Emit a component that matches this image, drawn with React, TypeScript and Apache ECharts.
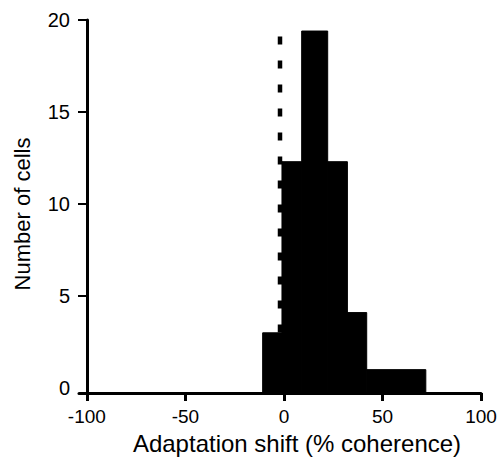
import React, { useEffect, useRef } from "react";
import * as echarts from "echarts";

// Histogram bin edges (% coherence) and counts (number of cells)
const binEdges = [-10.8, -1, 9, 22.2, 32.2, 42, 72];
const binCounts = [3, 12.3, 19.4, 12.3, 4.1, 1];
const xTicks = [-100, -50, 0, 50, 100];
const yTicks = [0, 5, 10, 15, 20];
const yTickMarks = [5, 10, 15, 20];
const dashedX = -2;
const dashedTop = 19.1;

const X_MIN = -104;
const X_MAX = 100;
const Y_MIN = -0.27;
const Y_MAX = 20;
const FONT = "'Liberation Sans', Arial, Helvetica, sans-serif";

export default function App() {
  const ref = useRef<HTMLDivElement>(null);
  useEffect(() => {
    if (!ref.current) return;
    const chart = echarts.init(ref.current, undefined, { renderer: "svg" });
    const bars = binCounts.map((c, i) => [binEdges[i], binEdges[i + 1], c]);
    chart.setOption({
      animation: false,
      backgroundColor: "#ffffff",
      grid: { left: 79, right: 20, top: 20, bottom: 69 },
      xAxis: {
        type: "value",
        min: X_MIN,
        max: X_MAX,
        splitLine: { show: false },
        axisLine: { show: true, onZero: false, lineStyle: { color: "#000", width: 3 } },
        axisTick: { show: true, length: 8, customValues: xTicks, lineStyle: { color: "#000", width: 3 } },
        axisLabel: {
          customValues: xTicks,
          color: "#000",
          fontSize: 19,
          lineHeight: 19,
          fontFamily: FONT,
          margin: 14,
        },
      },
      yAxis: {
        type: "value",
        min: Y_MIN,
        max: Y_MAX,
        offset: -8,
        splitLine: { show: false },
        axisLine: { show: true, onZero: false, lineStyle: { color: "#000", width: 3 } },
        axisTick: { show: true, length: 9, customValues: yTickMarks, lineStyle: { color: "#000", width: 2 } },
        axisLabel: {
          customValues: yTicks,
          color: "#000",
          fontSize: 20,
          fontFamily: FONT,
          margin: 17,
        },
      },
      graphic: [
        {
          type: "text",
          x: 297,
          y: 443,
          style: {
            text: "Adaptation shift (% coherence)",
            fill: "#000",
            fontSize: 24,
            lineHeight: 24,
            fontFamily: FONT,
            align: "center",
            verticalAlign: "middle",
          },
        },
        {
          type: "text",
          x: 22,
          y: 214,
          rotation: Math.PI / 2,
          style: {
            text: "Number of cells",
            fill: "#000",
            fontSize: 22,
            fontFamily: FONT,
            align: "center",
            verticalAlign: "middle",
          },
        },
      ],
      series: [
        {
          type: "custom",
          data: bars,
          renderItem: (params: any, api: any) => {
            const x0 = api.value(0);
            const x1 = api.value(1);
            const h = api.value(2);
            const p0 = api.coord([x0, h]);
            const p1 = api.coord([x1, Y_MIN]);
            return {
              type: "rect",
              shape: { x: p0[0], y: p0[1], width: p1[0] - p0[0], height: p1[1] - p0[1] },
              style: { fill: "#000", stroke: "#000", lineWidth: 1 },
            };
          },
          z: 2,
        },
        {
          type: "line",
          data: [
            [dashedX, dashedTop],
            [dashedX, 0],
          ],
          symbol: "none",
          lineStyle: { color: "#000", width: 4.5, type: [8, 16] },
          z: 3,
        },
      ],
    });
    return () => chart.dispose();
  }, []);
  return (
    <div
      ref={ref}
      style={{ width: 501, height: 462, position: "fixed", left: 0, top: 0, background: "#fff" }}
    />
  );
}
